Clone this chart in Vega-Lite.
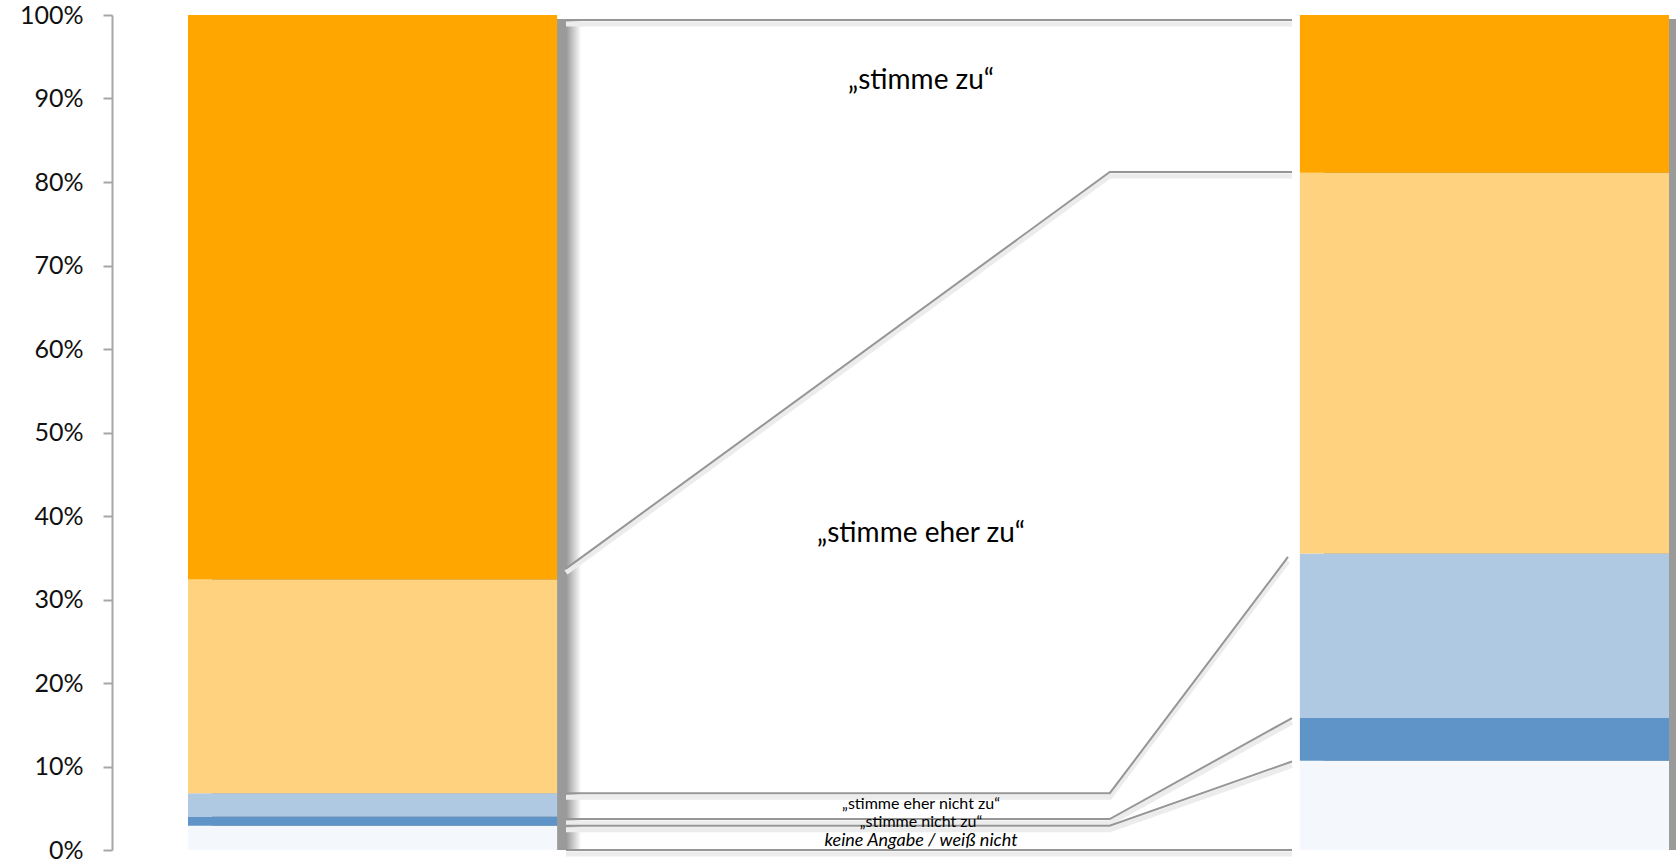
{
  "$schema": "https://vega.github.io/schema/vega-lite/v6.json",
  "width": 1564,
  "height": 835,
  "autosize": {"type": "none"},
  "padding": {"left": 112, "top": 15, "right": 0, "bottom": 14},
  "background": "#ffffff",
  "config": {
    "view": {"stroke": null},
    "axisY": {
      "domainColor": "#a6a6a6",
      "domainWidth": 2,
      "tickColor": "#a6a6a6",
      "tickWidth": 2,
      "tickSize": 9,
      "grid": false,
      "labelFont": "Lato",
      "labelFontSize": 25,
      "labelColor": "#111111",
      "labelPadding": 20,
      "labelOffset": 0,
      "labelOverlap": false,
      "labelExpr": "datum.value + '%'",
      "tickCount": 10,
      "values": [0, 10, 20, 30, 40, 50, 60, 70, 80, 90, 100]
    }
  },
  "datasets": {
    "balken": [
      {"gruppe": "links", "antwort": "keine Angabe / weiß nicht", "rang": 1, "anteil": 2.9},
      {"gruppe": "links", "antwort": "„stimme nicht zu“", "rang": 2, "anteil": 1.1},
      {"gruppe": "links", "antwort": "„stimme eher nicht zu“", "rang": 3, "anteil": 2.8},
      {"gruppe": "links", "antwort": "„stimme eher zu“", "rang": 4, "anteil": 25.6},
      {"gruppe": "links", "antwort": "„stimme zu“", "rang": 5, "anteil": 67.6},
      {"gruppe": "rechts", "antwort": "keine Angabe / weiß nicht", "rang": 1, "anteil": 10.7},
      {"gruppe": "rechts", "antwort": "„stimme nicht zu“", "rang": 2, "anteil": 5.1},
      {"gruppe": "rechts", "antwort": "„stimme eher nicht zu“", "rang": 3, "anteil": 19.7},
      {"gruppe": "rechts", "antwort": "„stimme eher zu“", "rang": 4, "anteil": 45.6},
      {"gruppe": "rechts", "antwort": "„stimme zu“", "rang": 5, "anteil": 18.9}
    ],
    "linien": [
      {"linie": 1, "pos": 0, "pct": 99.4},
      {"linie": 1, "pos": 1, "pct": 99.4},
      {"linie": 2, "pos": 0, "pct": 33.7},
      {"linie": 2, "pos": 0.749, "pct": 81.2},
      {"linie": 2, "pos": 1, "pct": 81.2},
      {"linie": 3, "pos": 0, "pct": 6.8},
      {"linie": 3, "pos": 0.749, "pct": 6.8},
      {"linie": 3, "pos": 0.9945, "pct": 35.1},
      {"linie": 4, "pos": 0, "pct": 3.7},
      {"linie": 4, "pos": 0.749, "pct": 3.7},
      {"linie": 4, "pos": 1, "pct": 15.8},
      {"linie": 5, "pos": 0, "pct": 2.9},
      {"linie": 5, "pos": 0.749, "pct": 2.9},
      {"linie": 5, "pos": 1, "pct": 10.6},
      {"linie": 6, "pos": 0, "pct": 0},
      {"linie": 6, "pos": 1, "pct": 0}
    ],
    "beschriftungen": [
      {"text": "„stimme zu“", "pos": 0.489, "pct": 92.1, "stil": "gross"},
      {"text": "„stimme eher zu“", "pos": 0.489, "pct": 37.8, "stil": "gross"},
      {"text": "„stimme eher nicht zu“", "pos": 0.489, "pct": 4.9, "stil": "klein"},
      {"text": "„stimme nicht zu“", "pos": 0.489, "pct": 2.8, "stil": "klein"},
      {"text": "keine Angabe / weiß nicht", "pos": 0.489, "pct": 0.5, "stil": "kursiv"}
    ]
  },
  "resolve": {"scale": {"x": "independent"}},
  "layer": [
    {
      "data": {"name": "balken"},
      "mark": {
        "type": "bar",
        "xOffset": 24,
        "yOffset": 4,
        "fill": {
          "gradient": "linear", "x1": 0, "x2": 1, "y1": 0, "y2": 0,
          "stops": [
            {"offset": 0, "color": "#9a9a9a"},
            {"offset": 0.96, "color": "#9a9a9a"},
            {"offset": 1, "color": "#ffffff"}
          ]
        }
      },
      "encoding": {
        "x": {"field": "gruppe", "type": "nominal", "axis": null,
              "scale": {"paddingInner": 0.668, "paddingOuter": 0.0373, "align": 0.916}},
        "y": {"aggregate": "sum", "field": "anteil", "type": "quantitative", "title": null,
              "scale": {"domain": [0, 100], "nice": false}}
      }
    },
    {
      "data": {"name": "balken"},
      "mark": {"type": "bar", "strokeWidth": 0},
      "encoding": {
        "x": {"field": "gruppe", "type": "nominal", "axis": null,
              "scale": {"paddingInner": 0.668, "paddingOuter": 0.0373, "align": 0.916}},
        "y": {"field": "anteil", "type": "quantitative", "stack": "zero", "title": null,
              "scale": {"domain": [0, 100], "nice": false}},
        "order": {"field": "rang", "type": "quantitative", "sort": "ascending"},
        "color": {
          "field": "antwort", "type": "nominal", "legend": null,
          "scale": {
            "domain": ["keine Angabe / weiß nicht", "„stimme nicht zu“", "„stimme eher nicht zu“", "„stimme eher zu“", "„stimme zu“"],
            "range": ["#f4f7fb", "#5f94c8", "#afc9e3", "#ffd27f", "#ffa600"]
          }
        }
      }
    },
    {
      "data": {"name": "linien"},
      "mark": {"type": "line", "stroke": "#ececec", "strokeWidth": 5, "yOffset": 4},
      "encoding": {
        "x": {"field": "pos", "type": "quantitative", "axis": null,
              "scale": {"domain": [0, 1], "range": [454, 1180], "nice": false, "zero": false}},
        "y": {"field": "pct", "type": "quantitative", "title": null,
              "scale": {"domain": [0, 100], "nice": false}},
        "detail": {"field": "linie", "type": "nominal"},
        "order": {"field": "pos", "type": "quantitative"}
      }
    },
    {
      "data": {"name": "linien"},
      "mark": {"type": "line", "stroke": "#969696", "strokeWidth": 2},
      "encoding": {
        "x": {"field": "pos", "type": "quantitative", "axis": null,
              "scale": {"domain": [0, 1], "range": [454, 1180], "nice": false, "zero": false}},
        "y": {"field": "pct", "type": "quantitative", "title": null,
              "scale": {"domain": [0, 100], "nice": false}},
        "detail": {"field": "linie", "type": "nominal"},
        "order": {"field": "pos", "type": "quantitative"}
      }
    },
    {
      "data": {"name": "beschriftungen"},
      "transform": [{"filter": "datum.stil === 'gross'"}],
      "mark": {"type": "text", "font": "Lato", "fontSize": 28, "color": "#000000", "align": "center", "baseline": "middle"},
      "encoding": {
        "x": {"field": "pos", "type": "quantitative", "axis": null,
              "scale": {"domain": [0, 1], "range": [454, 1180], "nice": false, "zero": false}},
        "y": {"field": "pct", "type": "quantitative", "title": null,
              "scale": {"domain": [0, 100], "nice": false}},
        "text": {"field": "text"}
      }
    },
    {
      "data": {"name": "beschriftungen"},
      "transform": [{"filter": "datum.stil === 'klein'"}],
      "mark": {"type": "text", "font": "Lato", "fontSize": 16, "color": "#000000", "align": "center", "baseline": "alphabetic"},
      "encoding": {
        "x": {"field": "pos", "type": "quantitative", "axis": null,
              "scale": {"domain": [0, 1], "range": [454, 1180], "nice": false, "zero": false}},
        "y": {"field": "pct", "type": "quantitative", "title": null,
              "scale": {"domain": [0, 100], "nice": false}},
        "text": {"field": "text"}
      }
    },
    {
      "data": {"name": "beschriftungen"},
      "transform": [{"filter": "datum.stil === 'kursiv'"}],
      "mark": {"type": "text", "font": "Lato", "fontSize": 18, "fontStyle": "italic", "color": "#000000", "align": "center", "baseline": "alphabetic"},
      "encoding": {
        "x": {"field": "pos", "type": "quantitative", "axis": null,
              "scale": {"domain": [0, 1], "range": [454, 1180], "nice": false, "zero": false}},
        "y": {"field": "pct", "type": "quantitative", "title": null,
              "scale": {"domain": [0, 100], "nice": false}},
        "text": {"field": "text"}
      }
    }
  ]
}
